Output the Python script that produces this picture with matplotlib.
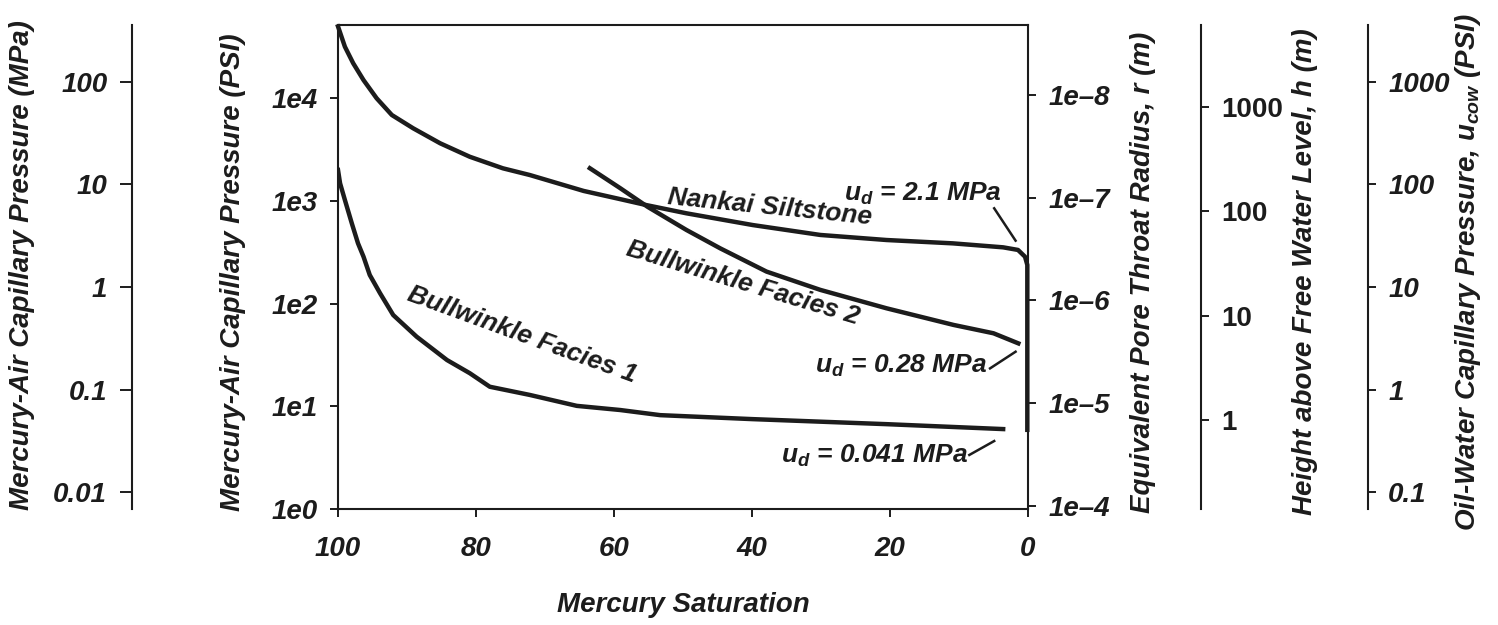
import matplotlib.pyplot as plt
from matplotlib.ticker import FixedLocator, FixedFormatter, NullLocator

plt.rcParams['font.family'] = ['Liberation Sans', 'DejaVu Sans']
plt.rcParams['font.weight'] = 'bold'
plt.rcParams['font.style'] = 'italic'
plt.rcParams['mathtext.fontset'] = 'custom'
plt.rcParams['mathtext.it'] = 'Liberation Sans:italic:bold'
plt.rcParams['mathtext.rm'] = 'Liberation Sans:bold'
plt.rcParams['mathtext.bf'] = 'Liberation Sans:bold'

INK = '#1c1c1c'

# ---- data (saturation %, mercury-air pressure psi) ----
sat_nankai = [100, 99.0, 97.8, 96.3, 94.4, 92.2, 89.1, 85.2, 80.9, 76.1, 72.2, 64.4,
              59.1, 55.3, 49.5, 39.9, 30.1, 20.5, 10.9, 3.6, 1.45, 0.43, 0.1, 0.1]
psi_nankai = [50000, 31700, 21900, 15000, 9980, 6860, 5090, 3640, 2690, 2076, 1786, 1250,
              1040, 910, 757, 582, 466, 416, 386, 353, 333, 286, 238, 5.9]

sat_f2 = [63.5, 59.1, 55.1, 49.5, 44.6, 37.9, 30.1, 20.5, 10.8, 5.0, 1.4]
psi_f2 = [2080, 1330, 873, 521, 345, 205, 136, 90, 62, 51.4, 41]

sat_f1 = [100, 99.7, 99.0, 98.0, 97.1, 96.3, 95.4, 93.9, 92.0, 88.6, 84.2, 80.9, 78.0,
          72.2, 65.4, 59.1, 53.3, 39.9, 20.5, 3.6]
psi_f1 = [2000, 1484, 1020, 605, 386, 286, 190, 126, 77.4, 47.6, 28.2, 21.0, 15.5,
          12.9, 10.1, 9.2, 8.2, 7.5, 6.7, 6.0]

# leader lines for the entry pressure notes
lead_sat = [[4.9, 1.8], [5.5, 1.8], [8.5, 4.9]]
lead_psi = [[847, 410], [23.4, 34.0], [3.36, 4.59]]
ud_text = [r'$u_d$ = 2.1 MPa', r'$u_d$ = 0.28 MPa', r'$u_d$ = 0.041 MPa']
ud_sat = [15.3, 18.4, 22.2]
ud_psi = [1005, 21.2, 2.79]

curve_names = ['Nankai Siltstone', 'Bullwinkle Facies 2', 'Bullwinkle Facies 1']
name_sat = [37.4, 41.3, 73.3]
name_psi = [873, 158, 49.5]
name_rot = [-5.7, -16.7, -20]

# axis scales
psi_lim = (1, 51600)
PSI_TO_MPA = 0.00689476
R_CONST = 0.7405          # 2*gamma*cos(theta), N/m
height_lim = (0.14, 6100)

x_ticks = [100, 80, 60, 40, 20, 0]
psi_ticks = [1, 10, 100, 1000, 10000]
psi_labels = ['1e0', '1e1', '1e2', '1e3', '1e4']
mpa_ticks = [0.01, 0.1, 1, 10, 100]
mpa_labels = ['0.01', '0.1', '1', '10', '100']
r_ticks = [1e-4, 1e-5, 1e-6, 1e-7, 1e-8]
r_labels = ['1e\u20134', '1e\u20135', '1e\u20136', '1e\u20137', '1e\u20138']
h_ticks = [1, 10, 100, 1000]
h_labels = ['1', '10', '100', '1000']
ow_ticks = [0.1, 1, 10, 100, 1000]
ow_labels = ['0.1', '1', '10', '100', '1000']

W, H = 1498, 625
fig = plt.figure(figsize=(W / 100, H / 100), dpi=100)


def box(x0, x1, y0=25, y1=509):
    return [x0 / W, 1 - y1 / H, (x1 - x0) / W, (y1 - y0) / H]


TICK = dict(direction='out', length=5.8, width=1.4, labelsize=20, colors=INK, pad=9)

ax = fig.add_axes(box(338, 1028))
for s in ax.spines.values():
    s.set_linewidth(1.5)
    s.set_color(INK)
ax.set_xlim(100, 0)
ax.set_yscale('log')
ax.set_ylim(*psi_lim)
ax.xaxis.set_major_locator(FixedLocator(x_ticks))
ax.yaxis.set_major_locator(FixedLocator(psi_ticks))
ax.yaxis.set_major_formatter(FixedFormatter(psi_labels))
ax.yaxis.set_minor_locator(NullLocator())
ax.tick_params(axis='y', **TICK)
ax.tick_params(axis='x', **{**TICK, 'pad': 14})

lw = 3.2
ax.plot(sat_nankai, psi_nankai, color=INK, lw=lw, solid_joinstyle='round', clip_on=False)
ax.plot(sat_f2, psi_f2, color=INK, lw=lw, solid_joinstyle='round')
ax.plot(sat_f1, psi_f1, color=INK, lw=lw, solid_joinstyle='round')

for xs, ys in zip(lead_sat, lead_psi):
    ax.plot(xs, ys, color=INK, lw=1.8)
for t, xs, ys in zip(ud_text, ud_sat, ud_psi):
    ax.text(xs, ys, t, ha='center', va='baseline', fontsize=19, color=INK)
for t, xs, ys, rot in zip(curve_names, name_sat, name_psi, name_rot):
    ax.text(xs, ys, t, ha='center', va='center', rotation=rot,
            rotation_mode='anchor', fontsize=19, color=INK)

# radius axis on the right spine
axr = ax.twinx()
axr.set_yscale('log')
axr.set_ylim(R_CONST / (psi_lim[0] * PSI_TO_MPA * 1e6), R_CONST / (psi_lim[1] * PSI_TO_MPA * 1e6))
axr.yaxis.set_major_locator(FixedLocator(r_ticks))
axr.yaxis.set_major_formatter(FixedFormatter(r_labels))
axr.yaxis.set_minor_locator(NullLocator())
axr.tick_params(axis='y', **TICK)
for s in axr.spines.values():
    s.set_visible(False)


def spine_axis(xpix, side, lim, ticks, labels, length=5.8, style='italic'):
    a = fig.add_axes(box(xpix - 0.5, xpix + 0.5))
    a.patch.set_visible(False)
    for k, s in a.spines.items():
        s.set_visible(k == side)
        s.set_linewidth(1.5)
        s.set_color(INK)
    a.set_xticks([])
    a.set_yscale('log')
    a.set_ylim(*lim)
    a.yaxis.set_major_locator(FixedLocator(ticks))
    a.yaxis.set_major_formatter(FixedFormatter(labels))
    a.yaxis.set_minor_locator(NullLocator())
    if side == 'right':
        a.yaxis.tick_right()
    a.tick_params(axis='y', **{**TICK, 'length': length})
    for lab in a.get_yticklabels():
        lab.set_fontstyle(style)
    return a


spine_axis(132, 'left', (psi_lim[0] * PSI_TO_MPA, psi_lim[1] * PSI_TO_MPA),
           mpa_ticks, mpa_labels, length=8.5)
spine_axis(1200, 'right', height_lim, h_ticks, h_labels, style='normal')
spine_axis(1367, 'right', (psi_lim[0] * PSI_TO_MPA * 10, psi_lim[1] * PSI_TO_MPA * 10),
           ow_ticks, ow_labels)

LAB = dict(fontsize=20, color=INK, ha='center', va='center')
fig.text(22 / W, 1 - 265 / H, 'Mercury-Air Capillary Pressure (MPa)', rotation=90, **LAB)
fig.text(233 / W, 1 - 272 / H, 'Mercury-Air Capillary Pressure (PSI)', rotation=90, **LAB)
fig.text(1143 / W, 1 - 272 / H, 'Equivalent Pore Throat Radius, r (m)', rotation=90, **LAB)
fig.text(1305 / W, 1 - 272 / H, 'Height above Free Water Level, h (m)', rotation=90, **LAB)
fig.text(1468 / W, 1 - 272 / H, r'Oil-Water Capillary Pressure, $u_{\mathrm{cow}}$ (PSI)',
         rotation=90, **LAB)
fig.text(683 / W, 1 - 605 / H, 'Mercury Saturation', **LAB)

fig.savefig('out.png', dpi=100)
